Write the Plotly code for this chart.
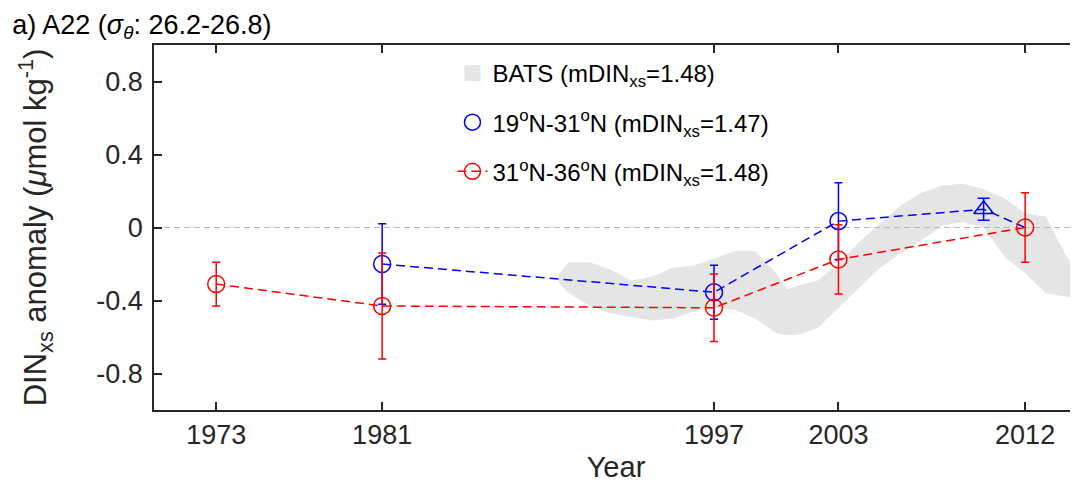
import plotly.graph_objects as go

# ---------------- data ----------------
# 31N-36N (red)
years_red = [1973, 1981, 1997, 2003, 2012]
din_red = [-0.31, -0.43, -0.44, -0.175, 0.0]
err_red = [0.12, 0.29, 0.185, 0.19, 0.19]

# 19N-31N (blue) connecting line
years_blue_line = [1981, 1997, 2003, 2010, 2012]
din_blue_line = [-0.20, -0.355, 0.035, 0.10, 0.0]

# 19N-31N (blue) circles
years_blue = [1981, 1997, 2003]
din_blue = [-0.20, -0.355, 0.035]
err_blue = [0.22, 0.148, 0.21]

# 19N-31N (blue) triangle
years_blue_tri = [2010]
din_blue_tri = [0.10]
err_blue_tri = [0.06]

# BATS envelope
years_bats = [1989.5, 1990, 1991, 1992, 1993, 1994, 1995, 1996, 1997, 1998, 1999,
              2000, 2000.5, 2001, 2002, 2003, 2004, 2005, 2006, 2007, 2008, 2009,
              2010, 2011, 2012, 2013, 2014, 2014.6]
bats_upper = [-0.26, -0.19, -0.19, -0.23, -0.29, -0.27, -0.22, -0.21, -0.17, -0.13, -0.13,
              -0.25, -0.34, -0.32, -0.29, -0.20, -0.08, 0.02, 0.12, 0.19, 0.23, 0.24,
              0.21, 0.16, 0.08, 0.06, -0.16, -0.25]
bats_lower = [-0.30, -0.36, -0.43, -0.47, -0.49, -0.51, -0.50, -0.46, -0.44, -0.45, -0.50,
              -0.58, -0.59, -0.59, -0.55, -0.44, -0.33, -0.22, -0.14, -0.07, 0.01, 0.03,
              0.00, -0.16, -0.25, -0.36, -0.38, -0.39]

x_tick_vals = [1973, 1981, 1997, 2003, 2012]
x_tick_text = ["1973", "1981", "1997", "2003", "2012"]
y_tick_vals = [-0.8, -0.4, 0, 0.4, 0.8]
y_tick_text = ["-0.8", "-0.4", "0", "0.4", "0.8"]
x_range = [1970, 2014.55]
y_range = [-1, 1]

label_bats = "BATS (mDIN<sub>xs</sub>=1.48)"
label_blue = "19<sup>o</sup>N-31<sup>o</sup>N (mDIN<sub>xs</sub>=1.47)"
label_red = "31<sup>o</sup>N-36<sup>o</sup>N (mDIN<sub>xs</sub>=1.48)"

# ---------------- style ----------------
FONT = "Liberation Sans, Arial, Helvetica, sans-serif"
BLUE = "#0000ff"
RED = "#ff0000"
GRAY = "#e5e5e5"
AX = "#262626"
DASH = "9px,5px"

# the page body adds an 8px margin around the figure; size the figure to fit the window
W, H = 1070, 475

fig = go.Figure()

# BATS band
fig.add_trace(go.Scatter(x=years_bats, y=bats_lower, mode="lines",
                         line=dict(width=0, color=GRAY), showlegend=False,
                         hoverinfo="skip"))
fig.add_trace(go.Scatter(x=years_bats, y=bats_upper, mode="lines", fill="tonexty",
                         fillcolor=GRAY, line=dict(width=0, color=GRAY),
                         showlegend=False, hoverinfo="skip"))
# BATS legend entry
fig.add_trace(go.Scatter(x=[None], y=[None], mode="markers", name=label_bats,
                         marker=dict(symbol="square", size=16, color=GRAY),
                         legendrank=1, legendgroup="a"))

# zero reference line
fig.add_trace(go.Scatter(x=x_range, y=[0, 0], mode="lines",
                         line=dict(color="#b8b8b8", width=1, dash="6px,4px"),
                         showlegend=False, hoverinfo="skip"))

# blue line
fig.add_trace(go.Scatter(x=years_blue_line, y=din_blue_line, mode="lines",
                         line=dict(color=BLUE, width=1.5, dash=DASH),
                         showlegend=False))
# blue circles
fig.add_trace(go.Scatter(x=years_blue, y=din_blue, mode="markers", name=label_blue,
                         marker=dict(symbol="circle-open", size=17,
                                     line=dict(width=1.5, color=BLUE), color=BLUE),
                         error_y=dict(type="data", array=err_blue, color=BLUE,
                                      thickness=1.5, width=4),
                         legendrank=2, legendgroup="b"))
# blue triangle
fig.add_trace(go.Scatter(x=years_blue_tri, y=din_blue_tri, mode="markers",
                         marker=dict(symbol="triangle-up-open", size=17,
                                     line=dict(width=1.5, color=BLUE), color=BLUE),
                         error_y=dict(type="data", array=err_blue_tri, color=BLUE,
                                      thickness=1.5, width=6),
                         showlegend=False))
# red
fig.add_trace(go.Scatter(x=years_red, y=din_red, mode="lines+markers", name=label_red,
                         line=dict(color=RED, width=1.5, dash=DASH),
                         marker=dict(symbol="circle-open", size=17,
                                     line=dict(width=1.5, color=RED), color=RED),
                         error_y=dict(type="data", array=err_red, color=RED,
                                      thickness=1.5, width=4),
                         legendrank=3, legendgroup="c"))

fig.update_layout(
    width=W, height=H,
    margin=dict(l=146, r=0, t=37, b=73, autoexpand=False),
    paper_bgcolor="white", plot_bgcolor="white",
    font=dict(family=FONT, color="black"),
    title=dict(text="a) A22 (<i>σ</i><sub><i>θ</i></sub>: 26.2-26.8)",
               x=0.004, xanchor="left", xref="container",
               y=0.986, yanchor="top", yref="container",
               pad=dict(t=0, b=0, l=0, r=0),
               font=dict(size=27, family=FONT, color="black")),
    showlegend=True,
    legend=dict(x=0.323, y=0.984, xanchor="left", yanchor="top",
                bgcolor="rgba(0,0,0,0)", font=dict(size=24, family=FONT, color="black"),
                tracegroupgap=15, itemwidth=30),
    xaxis=dict(range=x_range, tickvals=x_tick_vals, ticktext=x_tick_text,
               ticks="inside", ticklen=8, tickwidth=1.5, tickcolor=AX,
               showline=True, linecolor=AX, linewidth=1.5, mirror="ticks",
               showgrid=False, zeroline=False, automargin=False,
               tickfont=dict(size=27, family=FONT, color="#262626"),
               title=dict(text="Year", font=dict(size=29, family=FONT, color="#262626"),
                          standoff=8)),
    yaxis=dict(range=y_range, tickvals=y_tick_vals, ticktext=y_tick_text,
               ticks="inside", ticklen=8, tickwidth=1.5, tickcolor=AX,
               showline=True, linecolor=AX, linewidth=1.5, mirror="ticks",
               showgrid=False, zeroline=False, automargin=False,
               ticklabelstandoff=4,
               tickfont=dict(size=27, family=FONT, color="#262626"),
               title=dict(text="DIN<sub>xs</sub> anomaly (<i>μ</i>mol kg<sup>-1</sup>)",
                          font=dict(size=31, family=FONT, color="#262626"),
                          standoff=40)),
)

fig.write_html("out.html")
